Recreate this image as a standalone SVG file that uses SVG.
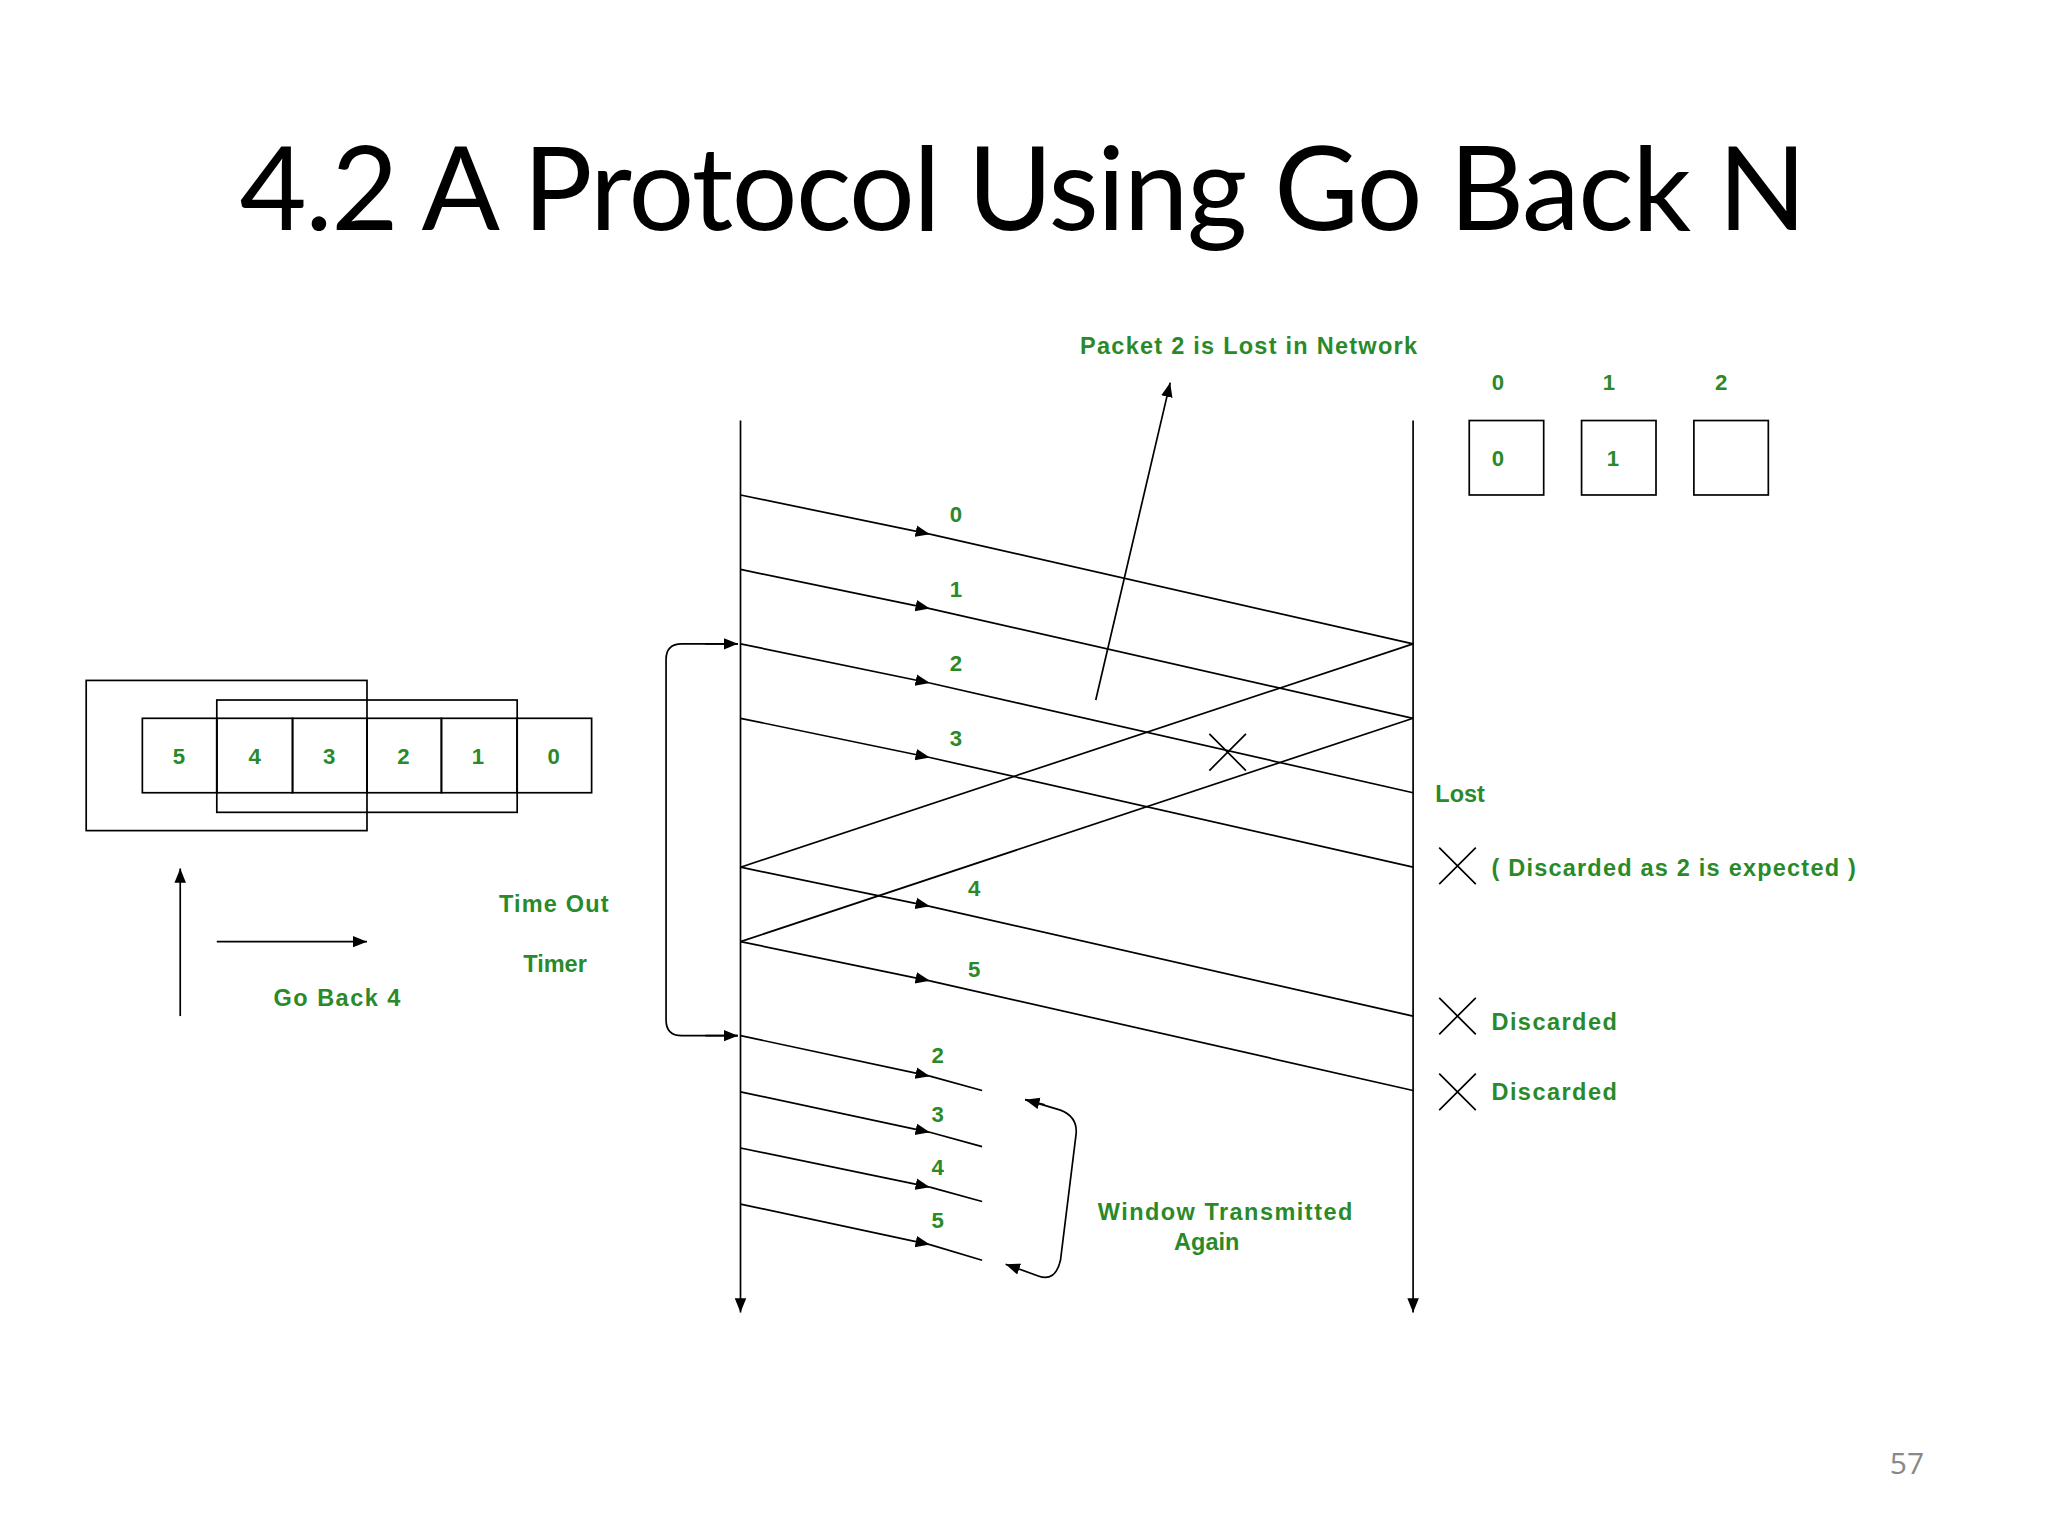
<svg xmlns="http://www.w3.org/2000/svg" width="2048" height="1536" viewBox="0 0 2048 1536">
<defs>
<marker id="ah" viewBox="0 0 10 10" refX="10" refY="5" markerWidth="11" markerHeight="11" markerUnits="userSpaceOnUse" orient="auto"><path d="M0,1 L10,5 L0,9 z" fill="#000"/></marker>
<style>
.l{stroke:#000;stroke-width:1.3;fill:none}
.g{font-family:"Liberation Sans",Arial,sans-serif;font-weight:bold;font-size:18px;fill:#2a8a2a;text-anchor:middle}
.gl{font-family:"Liberation Sans",Arial,sans-serif;font-weight:bold;font-size:18px;fill:#2a8a2a}
.b{font-family:"Liberation Sans",Arial,sans-serif;font-weight:bold;font-size:17px;fill:#2a8a2a;text-anchor:middle}
</style>
</defs>
<rect width="2048" height="1536" fill="#fff"/>
<text x="1023" y="230" font-family="Lato,'Open Sans',sans-serif" font-size="116" text-anchor="middle" textLength="1567" fill="#000">4.2 A Protocol Using Go Back N</text>
<text x="1907" y="1474" font-family="'Open Sans',sans-serif" font-size="30" text-anchor="middle" fill="#888">57</text>
<g transform="scale(1.306)">
<g id="connectors">
<line class="l" x1="567" y1="322" x2="567" y2="1005" marker-end="url(#ah)"/>
<line class="l" x1="1082" y1="322" x2="1082" y2="1005" marker-end="url(#ah)"/>
<line class="l" x1="567" y1="379" x2="712" y2="409" marker-end="url(#ah)"/><line class="l" x1="712" y1="409" x2="1082" y2="493"/>
<line class="l" x1="567" y1="436" x2="712" y2="466" marker-end="url(#ah)"/><line class="l" x1="712" y1="466" x2="1082" y2="550"/>
<line class="l" x1="567" y1="493" x2="712" y2="523" marker-end="url(#ah)"/><line class="l" x1="712" y1="523" x2="1082" y2="607"/>
<line class="l" x1="567" y1="550" x2="712" y2="580" marker-end="url(#ah)"/><line class="l" x1="712" y1="580" x2="1082" y2="664"/>
<line class="l" x1="567" y1="664" x2="1082" y2="493"/>
<line class="l" x1="567" y1="721" x2="1082" y2="550"/>
<line class="l" x1="567" y1="664" x2="712" y2="694" marker-end="url(#ah)"/><line class="l" x1="712" y1="694" x2="1082" y2="778"/>
<line class="l" x1="567" y1="721" x2="712" y2="751" marker-end="url(#ah)"/><line class="l" x1="712" y1="751" x2="1082" y2="835"/>
<line class="l" x1="567" y1="793" x2="712" y2="824" marker-end="url(#ah)"/><line class="l" x1="712" y1="824" x2="752" y2="835"/>
<line class="l" x1="567" y1="836" x2="712" y2="867" marker-end="url(#ah)"/><line class="l" x1="712" y1="867" x2="752" y2="878"/>
<line class="l" x1="567" y1="879" x2="712" y2="909" marker-end="url(#ah)"/><line class="l" x1="712" y1="909" x2="752" y2="920"/>
<line class="l" x1="567" y1="922" x2="712" y2="953" marker-end="url(#ah)"/><line class="l" x1="712" y1="953" x2="752" y2="965"/>
<path class="l" d="M926,562 L954,590 M954,562 L926,590"/>
<line class="l" x1="839" y1="536" x2="896" y2="293" marker-end="url(#ah)"/>
<path class="l" d="M565,493 L522,493 Q510,493 510,505 L510,781 Q510,793 522,793 L565,793" />
<path class="l" d="M540,493 L565,493" marker-end="url(#ah)"/>
<path class="l" d="M540,793 L565,793" marker-end="url(#ah)"/>
<path class="l" d="M785,842 L812,850 Q825,855 824,868 L812,965 Q808,982 795,977 L770,968" marker-end="url(#ah)"/>
<path class="l" d="M800,846 L785,842" marker-end="url(#ah)"/>
<line class="l" x1="138" y1="778" x2="138" y2="665" marker-end="url(#ah)"/>
<line class="l" x1="166" y1="721" x2="281" y2="721" marker-end="url(#ah)"/>
<path class="l" d="M1102,649 L1130,677 M1130,649 L1102,677"/>
<path class="l" d="M1102,764 L1130,792 M1130,764 L1102,792"/>
<path class="l" d="M1102,822 L1130,850 M1130,822 L1102,850"/>
</g>
<g id="labels">
<text class="b" x="732" y="400">0</text><text class="b" x="732" y="457">1</text><text class="b" x="732" y="514">2</text><text class="b" x="732" y="571">3</text>
<text class="b" x="746" y="686">4</text><text class="b" x="746" y="748">5</text>
<text class="b" x="718" y="814">2</text><text class="b" x="718" y="859">3</text><text class="b" x="718" y="900">4</text><text class="b" x="718" y="940">5</text>
<text class="g" x="956" y="271" textLength="258">Packet 2 is Lost in Network</text>
<text class="gl" x="1099" y="614">Lost</text>
<text class="gl" x="1142" y="671" textLength="279">( Discarded as 2 is expected )</text>
<text class="gl" x="1142" y="789" textLength="96">Discarded</text>
<text class="gl" x="1142" y="842" textLength="96">Discarded</text>
<text class="g" x="424" y="698" textLength="84">Time Out</text>
<text class="g" x="425" y="744">Timer</text>
<text class="g" x="938" y="934" textLength="195">Window Transmitted</text>
<text class="g" x="924" y="957">Again</text>
<text class="g" x="258" y="770" textLength="97">Go Back 4</text>
</g>
<g id="receiver">
<rect class="l" x="1125" y="322" width="57" height="57"/><rect class="l" x="1211" y="322" width="57" height="57"/><rect class="l" x="1297" y="322" width="57" height="57"/>
<text class="b" x="1147" y="299">0</text><text class="b" x="1232" y="299">1</text><text class="b" x="1318" y="299">2</text>
<text class="b" x="1147" y="357">0</text><text class="b" x="1235" y="357">1</text>
</g>
<g id="window">
<rect class="l" x="66" y="521" width="215" height="115"/>
<rect class="l" x="166" y="536" width="230" height="86"/>
<rect class="l" x="109" y="550" width="57" height="57"/><rect class="l" x="166" y="550" width="58" height="57"/><rect class="l" x="224" y="550" width="57" height="57"/><rect class="l" x="281" y="550" width="57" height="57"/><rect class="l" x="338" y="550" width="58" height="57"/><rect class="l" x="396" y="550" width="57" height="57"/>
<text class="b" x="137" y="585">5</text><text class="b" x="195" y="585">4</text><text class="b" x="252" y="585">3</text><text class="b" x="309" y="585">2</text><text class="b" x="366" y="585">1</text><text class="b" x="424" y="585">0</text>
</g>
</g>
</svg>
